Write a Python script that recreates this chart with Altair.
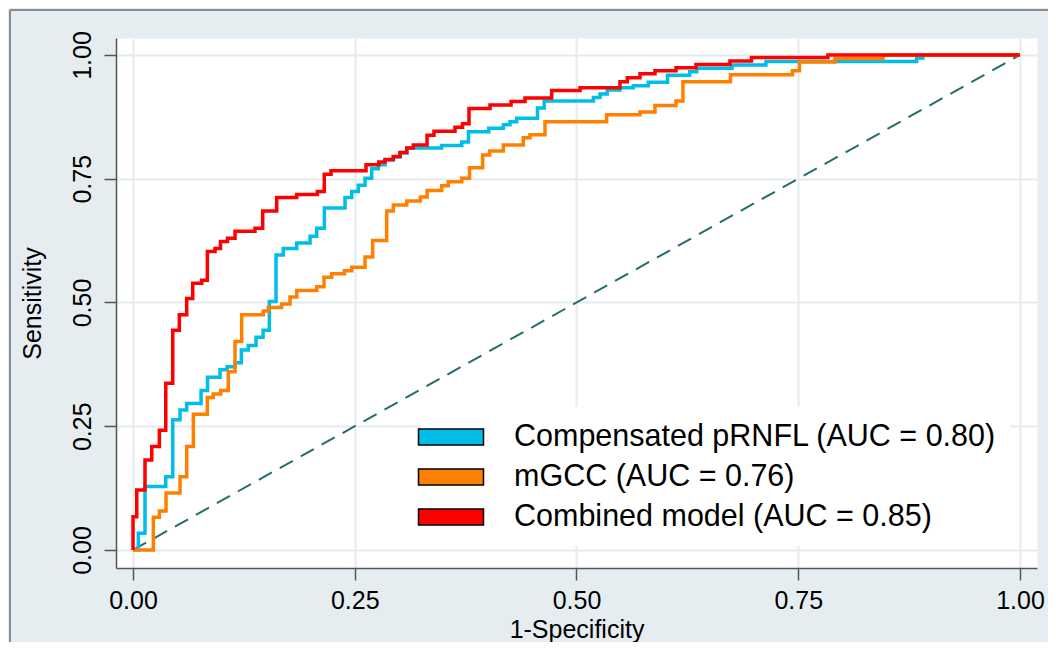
import altair as alt
import pandas as pd

series_names = ["Compensated pRNFL (AUC = 0.80)", "mGCC (AUC = 0.76)", "Combined model (AUC = 0.85)"]
series_colors = ["#00BEE8", "#FF8000", "#FF0000"]

prnfl_x = [0, 0.006, 0.0135, 0.0369, 0.0448, 0.053, 0.0605, 0.0767, 0.084, 0.0981, 0.106, 0.115,
           0.1221, 0.13, 0.1387, 0.1466, 0.1537, 0.1612, 0.1694, 0.1846, 0.1996, 0.2071, 0.2157,
           0.239, 0.2466, 0.254, 0.2616, 0.2691, 0.2766, 0.2841, 0.2935, 0.301, 0.3089, 0.348,
           0.3706, 0.3782, 0.4011, 0.4175, 0.425, 0.4326, 0.456, 0.4636, 0.519, 0.5265, 0.5347,
           0.549, 0.564, 0.581, 0.6026, 0.6276, 0.6355, 0.6753, 0.7136, 0.8835, 0.8906, 1.0]
prnfl_y = [0, 0.034, 0.128, 0.148, 0.263, 0.283, 0.296, 0.322, 0.349, 0.364, 0.370, 0.378,
           0.404, 0.413, 0.430, 0.444, 0.502, 0.596, 0.609, 0.620, 0.634, 0.650, 0.691,
           0.712, 0.724, 0.737, 0.751, 0.770, 0.778, 0.788, 0.794, 0.802, 0.812, 0.817,
           0.824, 0.845, 0.852, 0.859, 0.865, 0.872, 0.893, 0.907, 0.914, 0.921, 0.929,
           0.934, 0.938, 0.945, 0.959, 0.966, 0.973, 0.980, 0.987, 0.994, 1.0, 1.0]

mgcc_x = [0, 0.0229, 0.0297, 0.0372, 0.053, 0.0605, 0.068, 0.0838, 0.0905, 0.0989, 0.1074, 0.115,
          0.1225, 0.1469, 0.1525, 0.1676, 0.177, 0.1846, 0.2071, 0.2153, 0.224, 0.2384, 0.2466,
          0.2616, 0.2702, 0.286, 0.2935, 0.3086, 0.3239, 0.3315, 0.348, 0.3555, 0.3706, 0.3794,
          0.3942, 0.4021, 0.4175, 0.44, 0.4476, 0.4645, 0.534, 0.5716, 0.5885, 0.6122, 0.62,
          0.6736, 0.7435, 0.7514, 0.7914, 0.8456, 1.0]
mgcc_y = [0, 0.066, 0.079, 0.115, 0.148, 0.209, 0.274, 0.308, 0.315, 0.322, 0.360, 0.421,
          0.475, 0.483, 0.490, 0.497, 0.511, 0.524, 0.532, 0.551, 0.558, 0.564, 0.571,
          0.592, 0.625, 0.685, 0.697, 0.705, 0.713, 0.726, 0.736, 0.744, 0.751, 0.772,
          0.798, 0.806, 0.818, 0.833, 0.839, 0.865, 0.879, 0.885, 0.898, 0.907, 0.946,
          0.960, 0.968, 0.986, 0.993, 1.0, 1.0]

comb_x = [0, 0, 0.0042, 0.0135, 0.0211, 0.0297, 0.0369, 0.0448, 0.0522, 0.0605, 0.0673, 0.0775,
          0.0838, 0.0924, 0.0986, 0.1065, 0.115, 0.1375, 0.1462, 0.162, 0.1846, 0.2078, 0.2156,
          0.2232, 0.2627, 0.2771, 0.2841, 0.2935, 0.301, 0.3086, 0.316, 0.3315, 0.3393, 0.363,
          0.3715, 0.3788, 0.4025, 0.4262, 0.4419, 0.472, 0.504, 0.549, 0.5573, 0.5716, 0.5885,
          0.6122, 0.6347, 0.673, 0.6973, 0.7835, 1.0]
comb_y = [0, 0.067, 0.121, 0.182, 0.209, 0.242, 0.337, 0.444, 0.475, 0.508, 0.539, 0.545,
          0.603, 0.609, 0.623, 0.630, 0.644, 0.650, 0.685, 0.712, 0.718, 0.724, 0.759,
          0.766, 0.778, 0.784, 0.789, 0.795, 0.803, 0.812, 0.818, 0.838, 0.846, 0.854,
          0.861, 0.892, 0.899, 0.906, 0.913, 0.928, 0.934, 0.946, 0.954, 0.962, 0.968,
          0.974, 0.981, 0.988, 0.995, 1.0, 1.0]

diag_x = [0.0, 1.0]
diag_y = [0.0, 1.0]
tick_values = [0.0, 0.25, 0.5, 0.75, 1.0]

assert len(prnfl_x) == len(prnfl_y)
assert len(mgcc_x) == len(mgcc_y)
assert len(comb_x) == len(comb_y)

rows = []
for name, xs, ys in zip(series_names, [prnfl_x, mgcc_x, comb_x], [prnfl_y, mgcc_y, comb_y]):
    for i, (xv, yv) in enumerate(zip(xs, ys)):
        rows.append({"series": name, "fpr": xv, "tpr": yv, "idx": i})
df = pd.DataFrame(rows)
diag_df = pd.DataFrame({"fpr": diag_x, "tpr": diag_y})
one_row = pd.DataFrame({"k": [0]})

FONT = "Liberation Sans"
xscale = alt.Scale(domain=[-0.0192, 1.0192], nice=False, zero=False)
yscale = alt.Scale(domain=[-0.0364, 1.0343], nice=False, zero=False)

xaxis = alt.Axis(values=tick_values, format=".2f", title="1-Specificity", grid=True,
                 labelFontSize=25, labelFont=FONT, labelColor="black", labelPadding=8,
                 labelFlush=False, tickSize=12, tickWidth=1.5, tickColor="#555555",
                 domainColor="#555555", domainWidth=1.5, gridColor="#E3EBEF", gridWidth=2,
                 titleFont=FONT, titleFontSize=25, titleFontWeight="normal", titleColor="black",
                 titleX=460.5, titleY=69, titleAlign="center", titleBaseline="alphabetic")
yaxis = alt.Axis(values=tick_values, format=".2f", title="Sensitivity", grid=True,
                 labelFontSize=25, labelFont=FONT, labelColor="black", labelPadding=9,
                 labelAngle=270, labelAlign="center", labelBaseline="bottom", labelFlush=False,
                 tickSize=12, tickWidth=1.5, tickColor="#555555",
                 domainColor="#555555", domainWidth=1.5, gridColor="#E3EBEF", gridWidth=2,
                 titleFont=FONT, titleFontSize=25, titleFontWeight="normal", titleColor="black",
                 titleAngle=270, titleX=-76, titleY=265, titleAlign="center",
                 titleBaseline="alphabetic")

X = alt.X("fpr:Q", scale=xscale, axis=xaxis)
Y = alt.Y("tpr:Q", scale=yscale, axis=yaxis)

diag = alt.Chart(diag_df).mark_line(color="#266C6C", strokeWidth=2, strokeDash=[15, 9]).encode(x=X, y=Y)

layers = [diag]
for name, col in zip(series_names, series_colors):
    layers.append(
        alt.Chart(df).transform_filter(alt.datum.series == name)
        .mark_line(interpolate="step-after", strokeWidth=3.5, color=col)
        .encode(x=X, y=Y, order="idx:Q")
    )

legend_layer = alt.Chart(df).mark_point(filled=True, size=0).encode(
    x=X, y=Y,
    fill=alt.Fill("series:N", scale=alt.Scale(domain=series_names, range=series_colors),
                  legend=alt.Legend(orient="none", legendX=305, legendY=369, title=None,
                                    symbolType="M-2,-0.5H2V0.5H-2Z", symbolSize=1056,
                                    symbolStrokeColor="black", symbolStrokeWidth=1.5,
                                    symbolOpacity=1, labelFont=FONT, labelFontSize=30.5,
                                    labelLimit=800, labelColor="black", labelOffset=46,
                                    labelExpr="datum.label + '\u00a0\u00a0\u00a0'",
                                    rowPadding=7, padding=13, fillColor="white"))
)
layers.append(legend_layer)

# outer frame of the graph region (top and left edges)
frame_top = alt.Chart(one_row).mark_rule(color="#8C8C8C", strokeWidth=2).encode(
    x=alt.value(-106), x2=alt.value(960), y=alt.value(-28))
frame_left = alt.Chart(one_row).mark_rule(color="#8C8C8C", strokeWidth=2).encode(
    x=alt.value(-106), y=alt.value(-28), y2=alt.value(640))
layers += [frame_top, frame_left]

chart = alt.layer(*layers).properties(
    width=921, height=530,
    autosize=alt.AutoSizeParams(type="none"),
    padding={"left": 108, "top": 30, "right": 11, "bottom": 74},
).configure(background="#E5EDF0", font=FONT).configure_view(fill="white", stroke="transparent")

chart.save("out.html", embed_options={"renderer": "svg", "actions": False})
